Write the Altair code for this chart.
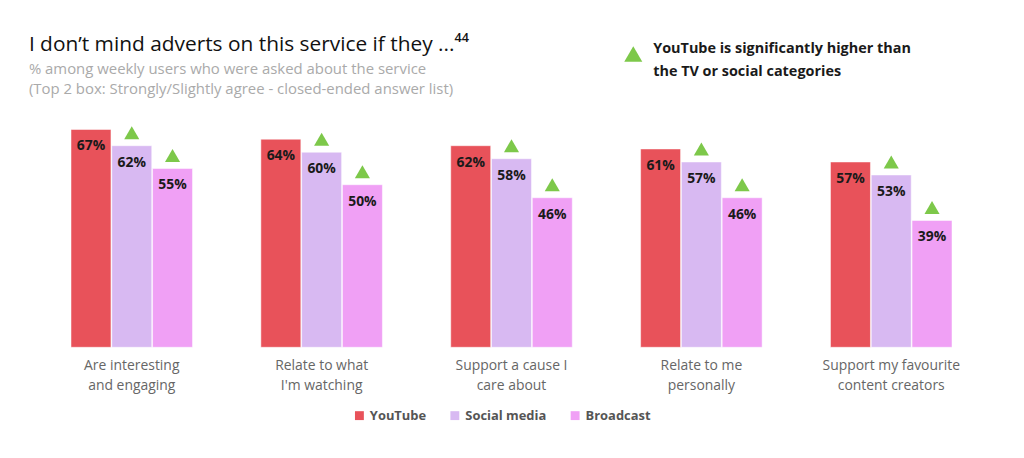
import altair as alt
import pandas as pd

categories = [
    "Are interesting\nand engaging",
    "Relate to what\nI'm watching",
    "Support a cause I\ncare about",
    "Relate to me\npersonally",
    "Support my favourite\ncontent creators",
]
series = ["YouTube", "Social media", "Broadcast"]
youtube = [67, 64, 62, 61, 57]
social = [62, 60, 58, 57, 53]
broadcast = [55, 50, 46, 46, 39]
# significance marker: YouTube significantly higher than these bars
sig_social = [True, True, True, True, True]
sig_broadcast = [True, True, True, True, True]

title_text = "I don\u2019t mind adverts on this service if they ...\u2074\u2074"
subtitle_lines = ["% among weekly users who were asked about the service",
                  "(Top 2 box: Strongly/Slightly agree - closed-ended answer list)"]
key_lines = ["YouTube is significantly higher than", "the TV or social categories"]

colors = ["#e8525a", "#d8b9f2", "#f0a0f5"]

rows = []
for i, c in enumerate(categories):
    rows.append({"category": c, "series": "YouTube", "value": youtube[i], "sig": False})
    rows.append({"category": c, "series": "Social media", "value": social[i], "sig": sig_social[i]})
    rows.append({"category": c, "series": "Broadcast", "value": broadcast[i], "sig": sig_broadcast[i]})
df = pd.DataFrame(rows)
df["label"] = df["value"].astype(str) + "%"

FONT = "Open Sans"

x = alt.X("category:N", sort=categories, title=None,
          scale=alt.Scale(paddingInner=0.36, paddingOuter=0.18),
          axis=alt.Axis(domain=False, ticks=False, labelAngle=0,
                        labelExpr="split(datum.label, '\\n')",
                        labelFont=FONT, labelFontSize=14, labelColor="#666666",
                        labelLineHeight=20, labelPadding=11, labelBaseline="top"))
xo = alt.XOffset("series:N", sort=series, scale=alt.Scale(paddingInner=0.02))
y = alt.Y("value:Q", title=None, scale=alt.Scale(domain=[0, 74.3]), axis=None)

base = alt.Chart(df)

bars = base.mark_bar(stroke="white", strokeWidth=0.5).encode(
    x=x, xOffset=xo, y=y,
    color=alt.Color("series:N", sort=series,
                    scale=alt.Scale(domain=series, range=colors),
                    legend=alt.Legend(title=None, orient="none", legendX=318, legendY=305,
                                      direction="horizontal", symbolType="square",
                                      symbolSize=80, symbolStrokeWidth=0,
                                      labelFont=FONT, labelFontSize=13, labelFontWeight="bold",
                                      labelColor="#555555", columnPadding=22, symbolOpacity=1)),
)

labels = base.mark_text(baseline="middle", dy=17, font=FONT, fontSize=14,
                        fontWeight="bold", color="#1a1a1a").encode(
    x=x, xOffset=xo, y=y, text="label:N")

tri = base.transform_filter("datum.sig").mark_point(
    shape="triangle-up", filled=True, size=230, color="#7dc84a", opacity=1, yOffset=-13
).encode(x=x, xOffset=xo, y=y)

one = pd.DataFrame({"k": [0]})

key_tri = alt.Chart(one).mark_point(
    shape="triangle-up", filled=True, size=330, color="#7dc84a", opacity=1
).encode(x=alt.value(600), y=alt.value(-52))

key_text = alt.Chart(one).mark_text(
    align="left", baseline="middle", font=FONT, fontSize=14.5, fontWeight="bold",
    color="#1a1a1a", lineHeight=23, text=key_lines
).encode(x=alt.value(620), y=alt.value(-57))

title_mark = alt.Chart(one).mark_text(
    align="left", baseline="alphabetic", font=FONT, fontSize=21, color="#111111",
    text=title_text
).encode(x=alt.value(-8), y=alt.value(-55))

subtitle_mark = alt.Chart(one).mark_text(
    align="left", baseline="alphabetic", font=FONT, fontSize=15, color="#aaaaaa",
    lineHeight=20, text=subtitle_lines
).encode(x=alt.value(-8), y=alt.value(-32))

chart = alt.layer(bars, labels, tri, key_tri, key_text, title_mark, subtitle_mark).properties(
    width=955, height=243,
    autosize=alt.AutoSizeParams(type="none"),
    padding={"left": 29, "top": 97, "right": 30, "bottom": 100},
    background="white",
).configure_view(stroke=None)

chart.save("out.html", embed_options={"renderer": "svg", "actions": False})
